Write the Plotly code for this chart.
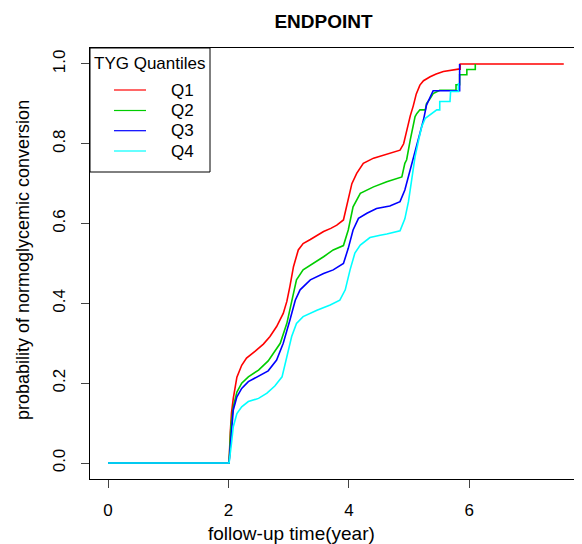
import plotly.graph_objects as go

# ---------------- data ----------------
series_names = ["Q1", "Q2", "Q3", "Q4"]
series_colors = ["#FF0000", "#00CD00", "#0000FF", "#00FFFF"]

q1_time = [0, 2.0, 2.01, 2.03, 2.05, 2.08, 2.14, 2.22, 2.30, 2.44, 2.58, 2.69, 2.80, 2.91,
           2.97, 3.02, 3.08, 3.16, 3.24, 3.36, 3.47, 3.58, 3.70, 3.80, 3.91, 3.96, 4.01,
           4.05, 4.13, 4.24, 4.41, 4.52, 4.63, 4.76, 4.85, 4.91, 4.96, 5.02, 5.07, 5.12,
           5.18, 5.24, 5.35, 5.45, 5.57, 5.70, 5.82, 5.85, 5.85, 7.57]
q1_prob = [0, 0, 0.0, 0.075, 0.125, 0.162, 0.215, 0.245, 0.263, 0.280, 0.298, 0.317, 0.342, 0.375,
           0.405, 0.442, 0.492, 0.534, 0.550, 0.560, 0.571, 0.580, 0.588, 0.596, 0.609, 0.642, 0.675,
           0.700, 0.726, 0.751, 0.764, 0.769, 0.773, 0.778, 0.784, 0.800, 0.835, 0.870, 0.895, 0.925,
           0.947, 0.958, 0.968, 0.975, 0.981, 0.985, 0.987, 0.987, 1.0, 1.0]

q2_time = [0, 2.0, 2.01, 2.04, 2.08, 2.14, 2.22, 2.33, 2.50, 2.66, 2.77, 2.86, 2.97, 3.05,
           3.13, 3.24, 3.41, 3.58, 3.74, 3.91, 3.99, 4.07, 4.19, 4.41, 4.63, 4.88, 4.93,
           4.96, 5.02, 5.07, 5.10, 5.13, 5.18, 5.27, 5.29, 5.35, 5.40, 5.51, 5.60, 5.78,
           5.78, 5.84, 5.84, 5.96, 5.96, 6.10, 6.10]
q2_prob = [0, 0, 0.0, 0.091, 0.141, 0.178, 0.200, 0.216, 0.233, 0.256, 0.280, 0.300, 0.350, 0.408,
           0.459, 0.484, 0.500, 0.517, 0.534, 0.545, 0.584, 0.642, 0.676, 0.692, 0.705, 0.717, 0.751,
           0.760, 0.810, 0.851, 0.868, 0.876, 0.885, 0.885, 0.901, 0.913, 0.926, 0.934, 0.934, 0.934,
           0.948, 0.948, 0.973, 0.973, 0.986, 0.986, 1.0]

q3_time = [0, 2.0, 2.01, 2.05, 2.08, 2.14, 2.22, 2.33, 2.50, 2.66, 2.80, 2.91, 3.02, 3.11,
           3.19, 3.36, 3.58, 3.74, 3.91, 3.99, 4.07, 4.16, 4.30, 4.46, 4.68, 4.85, 4.93,
           5.02, 5.10, 5.18, 5.24, 5.29, 5.35, 5.40, 5.84, 5.84]
q3_prob = [0, 0, 0.0, 0.078, 0.133, 0.166, 0.187, 0.204, 0.218, 0.231, 0.258, 0.300, 0.358, 0.408,
           0.434, 0.459, 0.475, 0.484, 0.500, 0.538, 0.584, 0.613, 0.626, 0.638, 0.644, 0.655, 0.684,
           0.734, 0.784, 0.830, 0.860, 0.897, 0.918, 0.933, 0.933, 1.0]

q4_time = [0, 2.0, 2.01, 2.05, 2.08, 2.14, 2.22, 2.33, 2.50, 2.64, 2.77, 2.89, 2.97, 3.05,
           3.13, 3.24, 3.47, 3.69, 3.85, 3.94, 4.02, 4.10, 4.19, 4.35, 4.52, 4.63, 4.85,
           4.93, 4.99, 5.04, 5.10, 5.16, 5.21, 5.27, 5.35, 5.46, 5.51, 5.51, 5.68, 5.69,
           5.82, 5.82]
q4_prob = [0, 0, 0.0, 0.049, 0.091, 0.124, 0.141, 0.154, 0.162, 0.175, 0.193, 0.216, 0.266, 0.317,
           0.350, 0.367, 0.383, 0.396, 0.408, 0.434, 0.484, 0.526, 0.546, 0.565, 0.571, 0.574, 0.582,
           0.612, 0.655, 0.705, 0.768, 0.810, 0.843, 0.864, 0.872, 0.885, 0.885, 0.906, 0.906, 0.931,
           0.931, 0.952]

x_ticks = [0, 2, 4, 6]
y_ticks = [0.0, 0.2, 0.4, 0.6, 0.8, 1.0]
y_tick_labels = ["0.0", "0.2", "0.4", "0.6", "0.8", "1.0"]

legend_title = "TYG Quantiles"
chart_title = "ENDPOINT"
x_title = "follow-up time(year)"
y_title = "probability of normoglycemic conversion"

# ---------------- figure ----------------
FONT = "Liberation Sans, Arial, Helvetica, sans-serif"
OFF = 8                      # page offset of the figure (default body margin)
W, H = 582 - OFF, 544 - OFF
L, R, T, B = 90 - OFF, 1, 48 - OFF, 65

fig = go.Figure()
all_series = [(q1_time, q1_prob), (q2_time, q2_prob), (q3_time, q3_prob), (q4_time, q4_prob)]
for (t, p), name, col in zip(all_series, series_names, series_colors):
    fig.add_trace(go.Scatter(x=t, y=p, mode="lines", name=name,
                             line=dict(color=col, width=1.6), showlegend=False))

plot_w = W - L - R
plot_h = H - T - B
px_per_x = 60.2

def px_to_paper_x(px):          # px given in page pixels
    return (px - OFF - L) / plot_w

def py_to_paper_y(py):          # py given in page pixels
    return (H - B - (py - OFF)) / plot_h

# manual legend (R style box)
shapes = [dict(type="rect", xref="paper", yref="paper",
               x0=0, x1=px_to_paper_x(210), y0=py_to_paper_y(172), y1=1,
               line=dict(color="black", width=1), fillcolor="white", layer="above")]
annotations = [dict(text=legend_title, xref="paper", yref="paper",
                    x=px_to_paper_x(150), y=py_to_paper_y(63.5), xanchor="center", yanchor="middle",
                    showarrow=False, font=dict(family=FONT, size=17, color="black"))]
row_y = [90, 110.5, 130.7, 151]
for name, col, ry in zip(series_names, series_colors, row_y):
    shapes.append(dict(type="line", xref="paper", yref="paper",
                       x0=px_to_paper_x(114), x1=px_to_paper_x(146),
                       y0=py_to_paper_y(ry), y1=py_to_paper_y(ry),
                       line=dict(color=col, width=1.2), layer="above"))
    annotations.append(dict(text=name, xref="paper", yref="paper",
                            x=px_to_paper_x(169), y=py_to_paper_y(ry), xanchor="left",
                            yanchor="middle", showarrow=False,
                            font=dict(family=FONT, size=17, color="black")))

# axis titles (placed as in the reference)
annotations.append(dict(text=x_title, xref="paper", yref="paper",
                        x=px_to_paper_x(291), y=py_to_paper_y(533),
                        xanchor="center", yanchor="middle", showarrow=False,
                        font=dict(family=FONT, size=19, color="black")))
annotations.append(dict(text=y_title, xref="paper", yref="paper", textangle=-90,
                        x=px_to_paper_x(23), y=py_to_paper_y(260),
                        xanchor="center", yanchor="middle", showarrow=False,
                        font=dict(family=FONT, size=18, color="black")))

fig.update_layout(
    width=W, height=H, autosize=False,
    margin=dict(l=L, r=R, t=T, b=B),
    paper_bgcolor="white", plot_bgcolor="white",
    font=dict(family=FONT, size=17, color="black"),
    title=dict(text="<b>" + chart_title + "</b>", x=(323.5 - OFF) / W, xanchor="center",
               xref="container",
               y=1 - (21.5 - OFF) / H, yanchor="middle", yref="container",
               font=dict(family=FONT, size=19, color="black")),
    shapes=shapes, annotations=annotations,
    xaxis=dict(range=[-0.3, -0.3 + plot_w / px_per_x], tickvals=x_ticks,
               showgrid=False, zeroline=False, showline=True, linecolor="black",
               linewidth=1, mirror=True, ticks="outside", ticklen=8, tickcolor="#444",
               tickfont=dict(family=FONT, size=17), ticklabelstandoff=8,
               automargin=False),
    yaxis=dict(range=[-0.04, 1.04], tickvals=y_ticks, ticktext=y_tick_labels,
               tickangle=-90, showgrid=False, zeroline=False, showline=True,
               linecolor="black", linewidth=1, mirror=True, ticks="outside",
               ticklen=8, tickcolor="#444", tickfont=dict(family=FONT, size=17),
               ticklabelstandoff=9, automargin=False),
)

fig.write_html("out.html")
